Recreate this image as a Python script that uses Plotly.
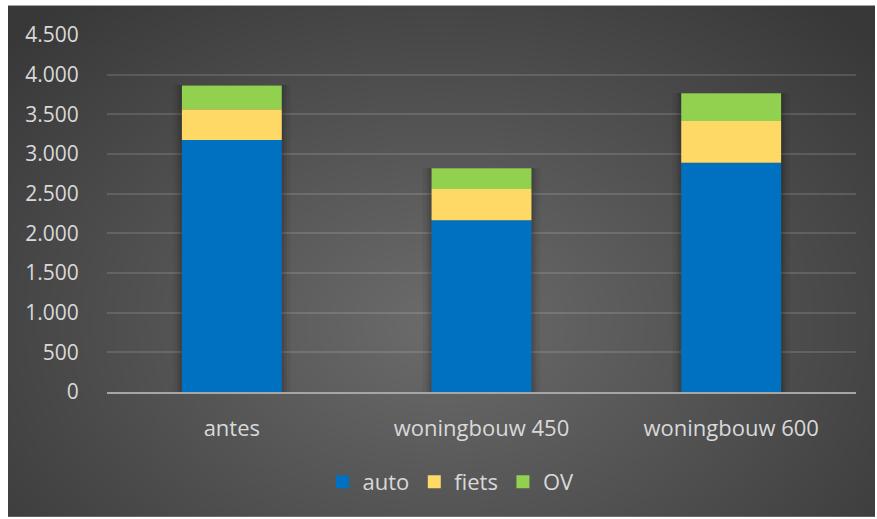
import base64
import struct
import zlib

import numpy as np
import plotly.graph_objects as go

# Trips per mode for each scenario
categories = ["antes", "woningbouw 450", "woningbouw 600"]
auto = [3175, 2165, 2890]
fiets = [390, 395, 525]
ov = [300, 260, 350]

series = [("auto", auto, "#0070C0"), ("fiets", fiets, "#FFD966"), ("OV", ov, "#92D050")]

W, H = 877, 519
L, R, T, B = 107, 21, 34.5, 127
plot_w = W - L - R
plot_h = H - T - B


def png_data_uri(img):
    """Encode an RGB uint8 array as a PNG data URI."""
    h, w, _ = img.shape
    raw = b"".join(b"\x00" + img[i].tobytes() for i in range(h))

    def chunk(tag, data):
        c = struct.pack(">I", len(data)) + tag + data
        return c + struct.pack(">I", zlib.crc32(tag + data) & 0xFFFFFFFF)

    png = b"\x89PNG\r\n\x1a\n"
    png += chunk(b"IHDR", struct.pack(">IIBBBBB", w, h, 8, 2, 0, 0, 0))
    png += chunk(b"IDAT", zlib.compress(raw, 9))
    png += chunk(b"IEND", b"")
    return "data:image/png;base64," + base64.b64encode(png).decode()


# Radial gradient backdrop for the chart area
bx0, by0, bx1, by1 = 8, 5, 875, 517
bw, bh = bx1 - bx0, by1 - by0
yy, xx = np.mgrid[0:bh, 0:bw]
dx = (xx - bw * 0.5) / (bw * 0.5)
dy = (yy - bh * 0.62) / (bh * 0.62)
d = np.clip(np.sqrt(dx ** 2 + dy ** 2) / 1.35, 0, 1)
inner, outer = 108.0, 56.0
val = (inner + (outer - inner) * d).astype(np.uint8)
bg = np.stack([val, val, val], axis=-1)
bg_uri = png_data_uri(bg)

fig = go.Figure()

totals = [a + f + o for a, f, o in zip(auto, fiets, ov)]

# soft shadow behind each stacked column
for wdt, op in [(0.47, 0.06), (0.44, 0.08), (0.42, 0.1)]:
    fig.add_trace(go.Bar(
        x=categories, y=[t + 25 for t in totals], base=[-20] * 3, width=wdt,
        marker=dict(color=f"rgba(0,0,0,{op})", line=dict(width=0)),
        showlegend=False, hoverinfo="skip",
    ))

# stacked columns drawn with explicit bases
base = [0, 0, 0]
for name, vals, color in series:
    fig.add_trace(go.Bar(
        x=categories, y=vals, base=list(base), name=name, width=0.4,
        marker=dict(color=color, line=dict(width=0)),
        showlegend=False, legendgroup=name,
    ))
    base = [b + v for b, v in zip(base, vals)]

# square legend keys
for name, vals, color in series:
    fig.add_trace(go.Scatter(
        x=[None], y=[None], mode="markers", name=name, legendgroup=name,
        marker=dict(symbol="square", size=13, color=color, line=dict(width=0)),
    ))

font_color = "#D9D9D9"
font_family = "Open Sans, Noto Sans, sans-serif"

fig.update_layout(
    width=W, height=H,
    margin=dict(l=L, r=R, t=T, b=B, pad=0),
    paper_bgcolor="white",
    plot_bgcolor="rgba(0,0,0,0)",
    barmode="overlay",
    separators=",.",
    font=dict(family=font_family, size=21, color=font_color),
    showlegend=True,
    legend=dict(
        orientation="h", x=(451 - L) / plot_w, xanchor="center",
        y=-(482 - (T + plot_h)) / plot_h, yanchor="middle",
        font=dict(size=22, color=font_color), bgcolor="rgba(0,0,0,0)",
        traceorder="normal", itemwidth=30, tracegroupgap=0,
    ),
    images=[dict(
        source=bg_uri, xref="paper", yref="paper",
        x=(bx0 - L) / plot_w, y=1 + (T - by0) / plot_h,
        sizex=bw / plot_w, sizey=bh / plot_h,
        xanchor="left", yanchor="top", sizing="stretch", layer="below",
    )],
    xaxis=dict(
        showgrid=False, zeroline=False,
        showline=True, linecolor="#A6A6A6", linewidth=2,
        ticks="outside", ticklen=16, tickcolor="rgba(0,0,0,0)",
        tickfont=dict(size=22, color=font_color),
        layer="above traces", fixedrange=True,
    ),
    yaxis=dict(
        range=[0, 4500], dtick=500, tickformat=",d",
        showgrid=True, gridcolor="rgba(255,255,255,0.13)", gridwidth=2,
        zeroline=False, showline=False,
        ticks="outside", ticklen=23, tickcolor="rgba(0,0,0,0)",
        tickfont=dict(size=21, color=font_color),
        fixedrange=True,
    ),
)

fig.write_html("out.html")
